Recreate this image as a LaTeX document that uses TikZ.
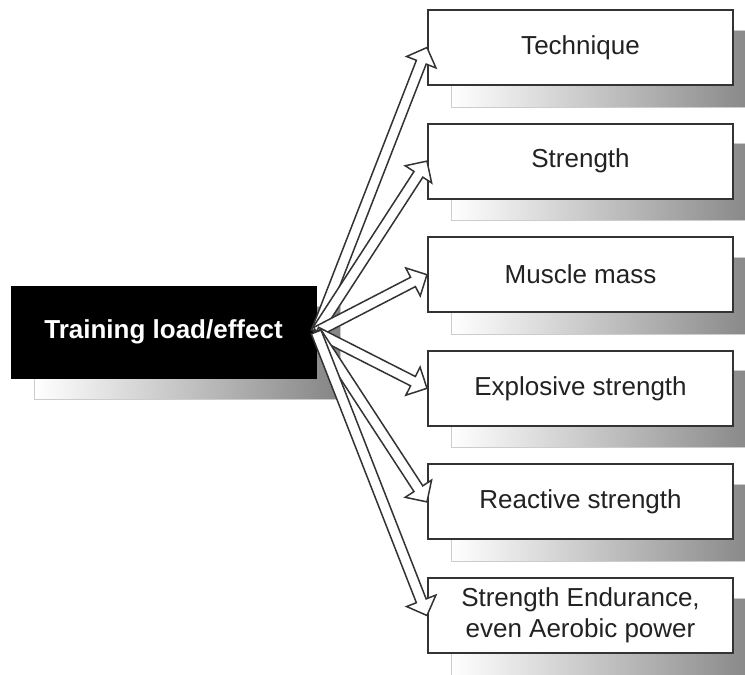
\documentclass[tikz,border=0pt]{standalone}
\usepackage{fontspec}
\setmainfont{Liberation Sans}
\usetikzlibrary{shapes.arrows,calc,backgrounds}
\definecolor{edge}{HTML}{333333}
\definecolor{ink}{HTML}{222222}
\tikzset{
  box/.style={draw=edge, line width=2pt, fill=white, minimum width=305pt,
    minimum height=75pt, inner sep=0pt, align=center,
    font=\fontsize{26}{31}\selectfont, text=ink},
  hub/.style={fill=black, draw=black, minimum width=305pt, minimum height=92pt,
    inner sep=0pt, font=\fontsize{26}{31}\selectfont\bfseries, text=white},
  shadebox/.style={draw=black!20, line width=1pt, left color=white, right color=black!48},
  harrow/.style={single arrow, draw=edge, fill=white, line width=1.5pt,
    inner sep=4.5pt, outer sep=0pt, minimum width=0pt,
    single arrow head extend=10.5pt, single arrow tip angle=90, anchor=tail}
}
% hollow block arrow from one node anchor to another
\newcommand\hollowarrow[3]{%
  \path let \p1=(#1), \p2=(#2),
    \n1={atan2(\y2-\y1,\x2-\x1)}, \n2={veclen(\x2-\x1,\y2-\y1)} in
    node[harrow, minimum height=\n2, rotate=\n1] (#3) at (\p1) {};}
\begin{document}
\begin{tikzpicture}[x=1pt,y=1pt]
\useasboundingbox (0,0) rectangle (745,-675);
\clip (0,0) rectangle (745,-675);

\node[hub] (load) at (163.5,-332) {Training load/effect};

\node[box] (tech) at (580.5,-47.5)  {Technique};
\node[box] (str)  at (580.5,-161.1) {Strength};
\node[box] (mass) at (580.5,-274.7) {Muscle mass};
\node[box] (expl) at (580.5,-388.3) {Explosive strength};
\node[box] (reac) at (580.5,-501.9) {Reactive strength};
\node[box] (endu) at (580.5,-615.5) {Strength Endurance,\\even Aerobic power};

% drop shadows behind every box
\begin{scope}[on background layer]
  \foreach \n in {load,tech,str,mass,expl,reac,endu}
    \path[shadebox] ($(\n.north west)+(24,-21)$) rectangle ($(\n.south east)+(24,-21)$);
\end{scope}

\hollowarrow{load.east}{tech.west}{a1}
\hollowarrow{load.east}{str.west}{a2}
\hollowarrow{load.east}{mass.west}{a3}
\hollowarrow{load.east}{expl.west}{a4}
\hollowarrow{load.east}{reac.west}{a5}
\hollowarrow{load.east}{endu.west}{a6}
\end{tikzpicture}
\end{document}
